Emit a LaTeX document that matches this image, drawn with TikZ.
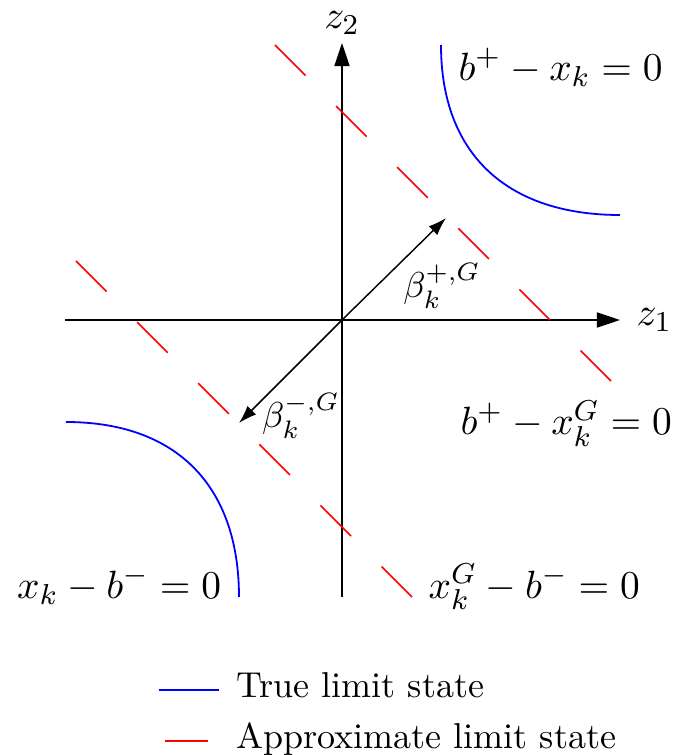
\documentclass[tikz,border=0pt]{standalone}
\usetikzlibrary{arrows.meta,positioning}
\tikzset{
  axisarrow/.style={-{Triangle[length=6.4pt,width=4.2pt]}},
  betaarrow/.style={-{Latex[length=5pt,width=3.4pt]}},
  truels/.style={blue, line width=0.5pt},
  approxls/.style={red, dash pattern=on 12pt off 12pt},
  lbl/.style={font=\fontsize{11.3}{13.6}\selectfont, inner sep=0pt},
}
\begin{document}
\begin{tikzpicture}[x=0.976cm,y=0.976cm]
\useasboundingbox (-3.42,-4.35) rectangle (3.35,3.20);
% axes
\coordinate (O) at (0,0);
\coordinate (z1a) at (-2.77,0);
\coordinate (z1b) at (2.78,0);
\coordinate (z2a) at (0,-2.77);
\coordinate (z2b) at (0,2.77);
\draw[axisarrow] (z1a) -- (z1b);
\draw[axisarrow] (z2a) -- (z2b);
\node[lbl, right=4.4pt of z1b] (z1) {$z_1$};
\node[lbl, above=2.2pt of z2b] (z2) {$z_2$};
% true limit state
\coordinate (tu1) at (0.99,2.75);
\coordinate (tu2) at (2.78,1.05);
\coordinate (tl1) at (-2.76,-1.02);
\coordinate (tl2) at (-1.03,-2.77);
\draw[truels] (tu1) to[out=-90,in=180,looseness=1.15] (tu2);
\draw[truels] (tl1) to[out=0,in=90,looseness=1.15] (tl2);
% approximate limit state
\coordinate (ru1) at (-0.67,2.75);
\coordinate (ru2) at (2.69,-0.61);
\coordinate (rl1) at (-2.66,0.59);
\coordinate (rl2) at (0.70,-2.77);
\draw[approxls] (ru1) -- (ru2);
\draw[approxls] (rl1) -- (rl2);
% reliability indices
\coordinate (bplus) at (1.04,1.02);
\coordinate (bminus) at (-1.03,-1.03);
\draw[betaarrow] (O) -- (bplus);
\draw[betaarrow] (O) -- (bminus);
\node (bplustext) at (1.00,0.34) {$\beta_k^{+,G}$};
\node (bminustext) at (-0.41,-0.96) {$\beta_k^{-,G}$};
% labels
\node[lbl, anchor=base west] (truep) at (1.16,2.40) {$b^+ - x_k = 0$};
\node[lbl, anchor=base west] (approxp) at (1.18,-1.15) {$b^+ - x_k^G = 0$};
\node[lbl, anchor=base east] (truem) at (-1.20,-2.78) {$x_k - b^- = 0$};
\node[lbl, anchor=base west] (approxm) at (0.86,-2.78) {$x_k^G - b^- = 0$};
% legend
\coordinate (lt1) at (-1.83,-3.70);
\coordinate (lt2) at (-1.23,-3.70);
\coordinate (la1) at (-1.77,-4.21);
\coordinate (la2) at (-1.23,-4.21);
\draw[truels] (lt1) -- (lt2);
\draw[approxls] (la1) -- (la2);
\node[anchor=base west, inner sep=0pt] (legtrue) at (-1.06,-3.77) {True limit state};
\node[anchor=base west, inner sep=0pt] (legapprox) at (-1.06,-4.28) {Approximate limit state};
\end{tikzpicture}
\end{document}
